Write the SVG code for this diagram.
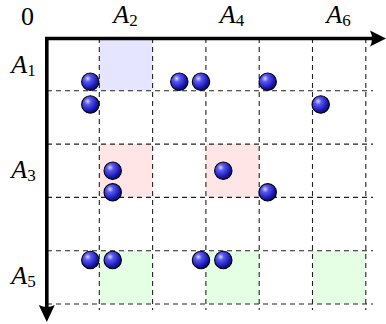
<svg xmlns="http://www.w3.org/2000/svg" width="386" height="324" viewBox="0 0 386 324">
<defs>
<radialGradient id="ballg" cx="0.35" cy="0.32" r="0.75">
<stop offset="0" stop-color="#d8d8ff"/>
<stop offset="0.25" stop-color="#5a5af0"/>
<stop offset="0.7" stop-color="#1a1ab8"/>
<stop offset="1" stop-color="#06065a"/>
</radialGradient>
<symbol id="ball" overflow="visible"><circle r="8.7" fill="url(#ballg)" stroke="#000" stroke-width="1.1"/></symbol>
</defs>
<style>
.grid{stroke:#222;stroke-width:1.1;stroke-dasharray:5 4;fill:none}
.lab{font-family:"Liberation Serif",serif;font-style:italic;font-size:26px;fill:#000}
.sub{font-style:normal;font-size:17px}
.zero{font-family:"Liberation Serif",serif;font-size:26px;fill:#000}
.axis{stroke:#000;stroke-width:3.6;fill:none}
</style>
<g id="shading">
<rect x="99.3" y="38" width="53.3" height="52.7" fill="#e5e5ff"/>
<rect x="99.3" y="144" width="53.3" height="53.3" fill="#ffe5e5"/>
<rect x="205.9" y="144" width="53.3" height="53.3" fill="#ffe5e5"/>
<rect x="99.3" y="250.7" width="53.3" height="53.3" fill="#e5ffe5"/>
<rect x="205.9" y="250.7" width="53.3" height="53.3" fill="#e5ffe5"/>
<rect x="312.5" y="250.7" width="53.3" height="53.3" fill="#e5ffe5"/>
</g>
<g id="grid" class="grid">
<path d="M47 90.8H373M47 144.1H373M47 197.4H373M47 250.7H373M47 304H373"/>
<path d="M99.3 38V310M152.6 38V310M205.9 38V310M259.2 38V310M312.5 38V310M365.8 38V310"/>
</g>
<g id="axes">
<path class="axis" d="M45 38.5H378M46.8 37V312"/>
<path d="M386 38.5L370 30.5Q374 38.5 370 46.5Z" fill="#000"/>
<path d="M46.8 322L38.8 305Q46.8 309 54.8 305Z" fill="#000"/>
</g>
<g id="labels">
<text class="zero" x="27.5" y="25" text-anchor="middle">0</text>
<text class="lab" x="125.5" y="23" text-anchor="middle">A<tspan class="sub" dy="3">2</tspan></text>
<text class="lab" x="232" y="23" text-anchor="middle">A<tspan class="sub" dy="3">4</tspan></text>
<text class="lab" x="338.5" y="23" text-anchor="middle">A<tspan class="sub" dy="3">6</tspan></text>
<text class="lab" x="23.5" y="73" text-anchor="middle">A<tspan class="sub" dy="3">1</tspan></text>
<text class="lab" x="23.5" y="178" text-anchor="middle">A<tspan class="sub" dy="3">3</tspan></text>
<text class="lab" x="23.5" y="284" text-anchor="middle">A<tspan class="sub" dy="3">5</tspan></text>
</g>
<g id="balls">
<use href="#ball" x="90.3" y="81.7"/>
<use href="#ball" x="179.3" y="81.7"/>
<use href="#ball" x="201" y="81.7"/>
<use href="#ball" x="267.7" y="81.7"/>
<use href="#ball" x="90.3" y="104.5"/>
<use href="#ball" x="320.7" y="104.5"/>
<use href="#ball" x="112.7" y="170.7"/>
<use href="#ball" x="112.7" y="192.3"/>
<use href="#ball" x="223.3" y="170.7"/>
<use href="#ball" x="267.7" y="192.3"/>
<use href="#ball" x="90.3" y="260"/>
<use href="#ball" x="112.7" y="260"/>
<use href="#ball" x="201" y="260"/>
<use href="#ball" x="223.3" y="260"/>
</g>
</svg>
